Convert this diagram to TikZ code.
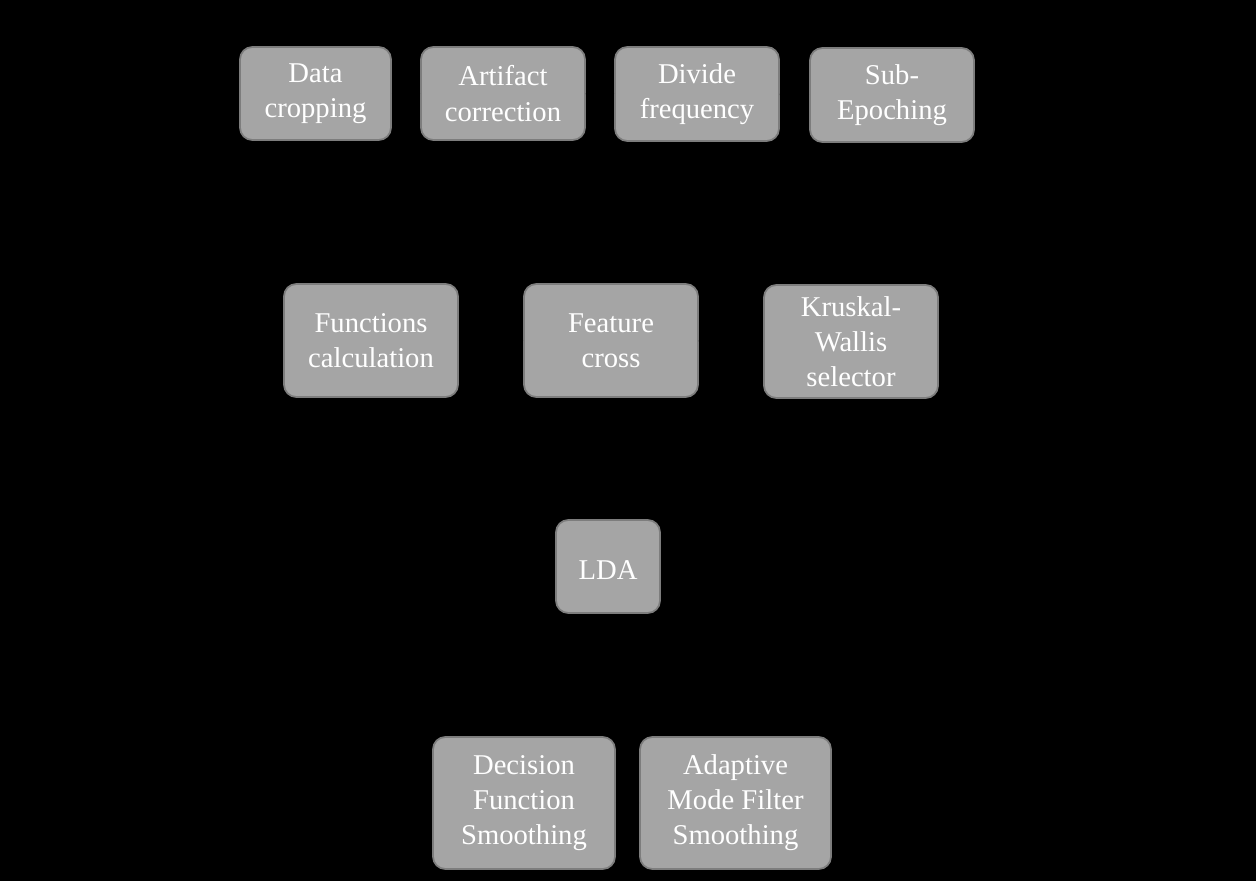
\documentclass[tikz,border=0pt]{standalone}
\usepackage{fontspec}
\setmainfont{Liberation Serif}
\usepackage{xcolor}
\usetikzlibrary{arrows.meta}
\definecolor{boxgrey}{RGB}{165,165,165}
\definecolor{edgegrey}{RGB}{125,125,125}
\tikzset{
  blk/.style ={rectangle, rounded corners=7pt, draw=edgegrey, line width=1pt,
               fill=boxgrey, text=white, align=center, inner sep=0pt,
               font=\fontsize{16.3}{20}\selectfont,
               execute at begin node={\rule{0pt}{15pt}}},
  ar/.style  ={-{Stealth[length=2mm]}, draw=black, thick},
}
\begin{document}
\begin{tikzpicture}
\fill[black] (0,0) rectangle (25.12,-17.62);
\useasboundingbox (0,0) rectangle (25.12,-17.62);
% preprocessing
\node[blk, minimum width=3.02cm, minimum height=1.86cm] (crop) at (6.31,-1.87) {Data\\cropping};
\node[blk, minimum width=3.28cm, minimum height=1.86cm] (artf) at (10.06,-1.87) {Artifact\\correction};
\node[blk, minimum width=3.28cm, minimum height=1.88cm] (freq) at (13.94,-1.88) {Divide\\frequency};
\node[blk, minimum width=3.28cm, minimum height=1.88cm] (subep) at (17.84,-1.90) {Sub-\\Epoching};
% features
\node[blk, minimum width=3.48cm, minimum height=2.26cm] (func) at (7.42,-6.81) {Functions\\calculation};
\node[blk, minimum width=3.48cm, minimum height=2.26cm] (cross) at (12.22,-6.81) {Feature\\cross};
\node[blk, minimum width=3.48cm, minimum height=2.26cm] (kw) at (17.02,-6.83) {Kruskal-\\Wallis\\selector};
% classification
\node[blk, minimum width=2.08cm, minimum height=1.86cm] (lda) at (12.16,-11.33) {LDA};
\node[blk, minimum width=3.64cm, minimum height=2.64cm] (dfs) at (10.48,-16.06) {Decision\\Function\\Smoothing};
\node[blk, minimum width=3.82cm, minimum height=2.64cm] (amf) at (14.71,-16.06) {Adaptive\\Mode Filter\\Smoothing};
\draw[ar] (crop)--(artf); \draw[ar] (artf)--(freq); \draw[ar] (freq)--(subep);
\draw[ar] (func)--(cross); \draw[ar] (cross)--(kw);
\draw[ar] (dfs)--(amf);
\end{tikzpicture}
\end{document}
